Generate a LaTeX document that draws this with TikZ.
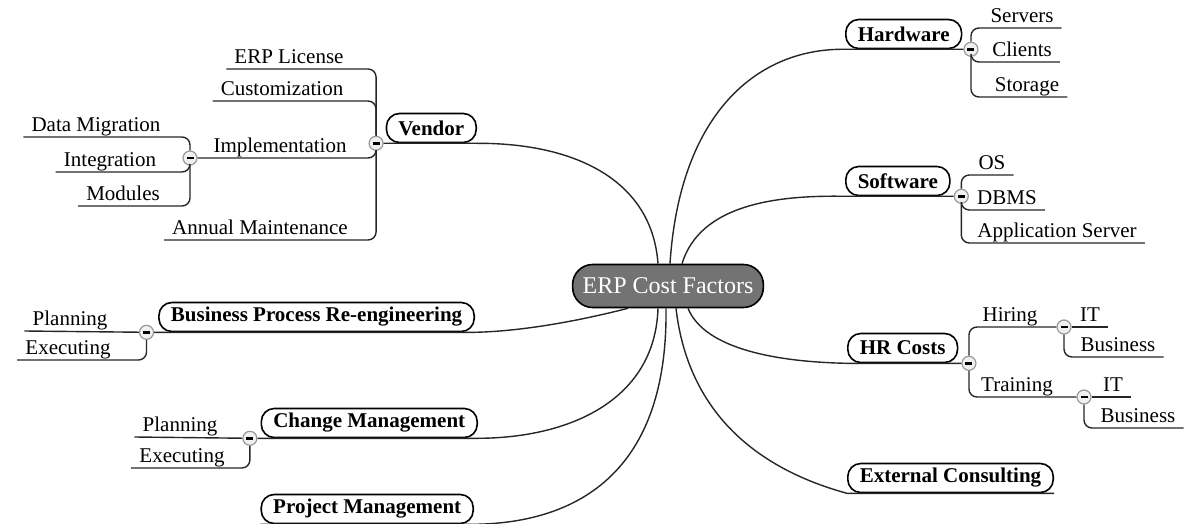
\documentclass[tikz,border=0pt]{standalone}
\usepackage{fontspec}
\setmainfont{LiberationSerif-Regular.ttf}[BoldFont=LiberationSerif-Bold.ttf]
\usetikzlibrary{positioning}

\tikzset{
  hub/.style={draw=black, line width=1.6pt, fill=black!55, text=white, rounded corners=20pt,
    minimum height=43pt, inner xsep=10pt, inner ysep=4pt, font=\fontsize{24}{28}\selectfont},
  topic/.style={draw=black, line width=1.6pt, fill=white, rounded corners=13pt,
    minimum height=29pt, inner xsep=12pt, inner ysep=3pt, font=\fontsize{21}{25}\selectfont\bfseries},
  leaf/.style={anchor=south, inner xsep=8pt, inner ysep=1pt, text depth=4pt, font=\fontsize{21}{25}\selectfont},
  minus/.style={circle, draw=gray!80, line width=1.2pt, fill=gray!12, minimum size=14pt, inner sep=0pt,
    path picture={\fill[black] ([xshift=-3.5pt,yshift=-1.3pt]path picture bounding box.center)
      rectangle ([xshift=3.5pt,yshift=1.3pt]path picture bounding box.center);}},
  link/.style={draw=black!85, line width=1.4pt},
  branch/.style={draw=black!85, line width=1.4pt, rounded corners=8pt}
}

\begin{document}
\begin{tikzpicture}[x=1pt, y=-1pt]
\useasboundingbox (0,0) rectangle (1200,524);

\node[hub] (erp) at (668,286) {ERP Cost Factors};

% left side topics
\node[topic, anchor=east] (vendor) at (477,128) {Vendor};
\node[topic, anchor=east] (bpr) at (475,317) {Business Process Re-engineering};
\node[topic, anchor=east] (chg) at (478,423) {Change Management};
\node[topic, anchor=east] (pm) at (474,509) {Project Management};

% right side topics
\node[topic, anchor=west] (hw) at (845,34) {Hardware};
\node[topic, anchor=west] (sw) at (845,181) {Software};
\node[topic, anchor=west] (hr) at (847,348) {HR Costs};
\node[topic, anchor=west] (ext) at (847,478) {External Consulting};

% collapse buttons
\node[minus, left=2pt of vendor.south west] (vc) {};
\node[minus, left=4pt of bpr.south west] (bc) {};
\node[minus, left=3pt of chg.south west] (cc) {};
\node[minus, right=1pt of hw.south east] (hc) {};
\node[minus, right=3pt of sw.south east] (sc) {};
\node[minus, right=3pt of hr.south east] (hrc) {};
\node[minus] (ic) at (190,158) {};
\node[minus] (hic) at (1064,327) {};
\node[minus] (tic) at (1084,397) {};

% leaves
\node[leaf] (v1) at (289,69) {ERP License};
\node[leaf] (v2) at (282,101) {Customization};
\node[leaf] (v3) at (280,158) {Implementation};
\node[leaf] (v4) at (260,240) {Annual Maintenance};
\node[leaf] (i1) at (96,137) {Data Migration};
\node[leaf] (i2) at (110,172) {Integration};
\node[leaf] (i3) at (123,206) {Modules};
\node[leaf] (b1) at (70,331) {Planning};
\node[leaf] (b2) at (68,360) {Executing};
\node[leaf] (c1) at (180,437) {Planning};
\node[leaf] (c2) at (182,468) {Executing};
\node[leaf] (h1) at (1022,28) {Servers};
\node[leaf] (h2) at (1022,62) {Clients};
\node[leaf] (h3) at (1027,97) {Storage};
\node[leaf] (s1) at (992,175) {OS};
\node[leaf] (s2) at (1007,210) {DBMS};
\node[leaf] (s3) at (1057,243) {Application Server};
\node[leaf] (r1) at (1010,327) {Hiring};
\node[leaf] (r2) at (1017,397) {Training};
\node[leaf] (hit) at (1090,327) {IT};
\node[leaf] (hib) at (1118,357) {Business};
\node[leaf] (tit) at (1113,397) {IT};
\node[leaf] (tib) at (1138,428) {Business};

% main curves
\draw[link] ([xshift=-10pt]erp.north) .. controls (652,180) and (575,143) .. (vendor.south east) -- (vc);
\draw[link] ([xshift=2pt]erp.north) .. controls (680,110) and (760,48) .. (hw.south west) -- (hc);
\draw[link] ([xshift=14pt]erp.north) .. controls (700,205) and (775,195) .. (sw.south west) -- (sc);
\draw[link] ([xshift=-40pt]erp.south) .. controls (590,318) and (530,331) .. (bpr.south east) -- (bc);
\draw[link] ([xshift=-10pt]erp.south) .. controls (655,400) and (570,438) .. (chg.south east) -- (cc);
\draw[link] ([xshift=-2pt]erp.south) .. controls (668,470) and (580,523) .. (pm.south east) -- (pm.south west);
\draw[link] ([xshift=20pt]erp.south) .. controls (705,350) and (780,362) .. (hr.south west) -- (hrc);
\draw[link] ([xshift=8pt]erp.south) .. controls (690,430) and (780,475) .. (ext.south west) -- (ext.south east);

% branches
\draw[branch] (vc) |- (v1.south west);
\draw[branch] (vc) |- (v2.south west);
\draw[branch] (vc) |- (ic);
\draw[branch] (vc) |- (v4.south west);
\draw[branch] (ic) |- (i1.south west);
\draw[branch] (ic) |- (i2.south west);
\draw[branch] (ic) |- (i3.south west);
\draw[branch] (bc) -- (b1.south west);
\draw[branch] (bc) |- (b2.south west);
\draw[branch] (cc) -- (c1.south west);
\draw[branch] (cc) |- (c2.south west);
\draw[branch] (hc) |- (h1.south east);
\draw[branch] (hc) |- (h2.south east);
\draw[branch] (hc) |- (h3.south east);
\draw[branch] (sc) |- (s1.south east);
\draw[branch] (sc) |- (s2.south east);
\draw[branch] (sc) |- (s3.south east);
\draw[branch] (hrc) |- (hic);
\draw[branch] (hrc) |- (tic);
\draw[branch] (hic) -- (hit.south east);
\draw[branch] (hic) |- (hib.south east);
\draw[branch] (tic) -- (tit.south east);
\draw[branch] (tic) |- (tib.south east);
\end{tikzpicture}
\end{document}
